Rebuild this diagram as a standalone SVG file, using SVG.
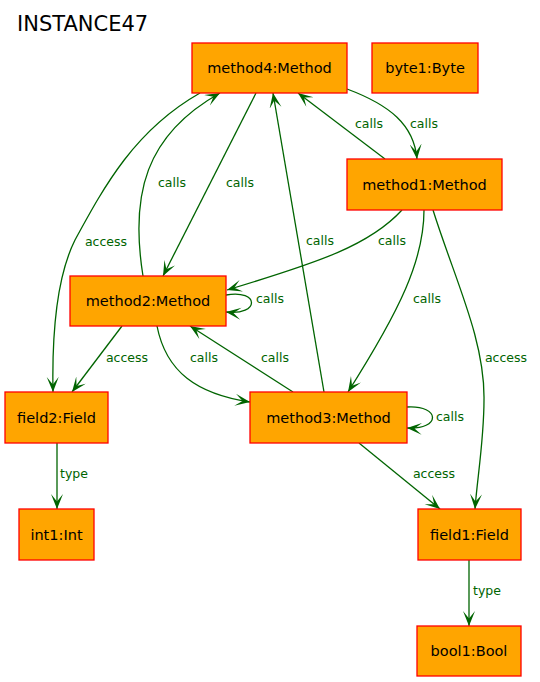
<svg xmlns="http://www.w3.org/2000/svg" width="540" height="682" viewBox="0 0 540 682">
<style>
.node rect{fill:#FFA500;stroke:#FF0000;stroke-width:1.3}
.node text{font-family:"DejaVu Sans",Verdana,sans-serif;font-size:14.5px;fill:#000;text-anchor:middle}
.edges path{fill:none;stroke:#006400;stroke-width:1.3}
.edges text{font-family:"DejaVu Sans",Verdana,sans-serif;font-size:12.5px;fill:#006400;text-anchor:middle}
.title{font-family:"DejaVu Sans",Verdana,sans-serif;font-size:21px;fill:#000}
</style>
<defs>
<marker id="arr" markerUnits="userSpaceOnUse" markerWidth="16" markerHeight="13" refX="15" refY="6" orient="auto">
<path d="M0,0 L15,6 L0,12 L7.5,6 Z" fill="#006400"/>
</marker>
</defs>
<rect width="540" height="682" fill="#fff"/>
<text class="title" x="17" y="31">INSTANCE47</text>
<g class="edges">
<path marker-end="url(#arr)" d="M256,93 L163,276"/>
<text x="240" y="187">calls</text>
<path marker-end="url(#arr)" d="M143,276 C130,195 145,135 220,93"/>
<text x="172" y="187">calls</text>
<path marker-end="url(#arr)" d="M200,93 C135,130 105,185 75,240 C55,280 52,340 53,392"/>
<text x="106" y="246">access</text>
<path marker-end="url(#arr)" d="M324,392 L273,93"/>
<text x="320" y="245">calls</text>
<path marker-end="url(#arr)" d="M385,159 L298,93"/>
<text x="369" y="128">calls</text>
<path marker-end="url(#arr)" d="M347,89 C390,105 414,125 417,159"/>
<text x="424" y="128">calls</text>
<path marker-end="url(#arr)" d="M402,210 C370,245 320,262 227,290"/>
<text x="392" y="245">calls</text>
<path marker-end="url(#arr)" d="M226,295 C260,289 260,316 226,312"/>
<text x="270" y="303">calls</text>
<path marker-end="url(#arr)" d="M424,210 C424,260 400,310 348,392"/>
<text x="427" y="303">calls</text>
<path marker-end="url(#arr)" d="M433,210 C455,280 485,340 484,400 C484,440 477,480 475,509"/>
<text x="506" y="362">access</text>
<path marker-end="url(#arr)" d="M122,326 L72,392"/>
<text x="127" y="362">access</text>
<path marker-end="url(#arr)" d="M157,326 C166,372 197,394 250,402"/>
<text x="204" y="362">calls</text>
<path marker-end="url(#arr)" d="M293,392 L190,326"/>
<text x="275" y="362">calls</text>
<path marker-end="url(#arr)" d="M407,407 C441,405 441,430 407,428"/>
<text x="450" y="421">calls</text>
<path marker-end="url(#arr)" d="M359,443 L440,509"/>
<text x="434" y="478">access</text>
<path marker-end="url(#arr)" d="M57,443 L57,509"/>
<text x="74" y="478">type</text>
<path marker-end="url(#arr)" d="M469,560 L469,626"/>
<text x="487" y="595">type</text>
</g>
<g id="method4" class="node"><rect x="192" y="43" width="155" height="50"/><text x="269.5" y="73">method4:Method</text></g>
<g id="byte1" class="node"><rect x="372" y="43" width="106" height="50"/><text x="425" y="73">byte1:Byte</text></g>
<g id="method1" class="node"><rect x="347" y="159" width="155" height="51"/><text x="424.5" y="189.5">method1:Method</text></g>
<g id="method2" class="node"><rect x="70" y="276" width="156" height="50"/><text x="148" y="306">method2:Method</text></g>
<g id="field2" class="node"><rect x="5" y="392" width="103" height="51"/><text x="56.5" y="422.5">field2:Field</text></g>
<g id="method3" class="node"><rect x="250" y="392" width="157" height="51"/><text x="328.5" y="422.5">method3:Method</text></g>
<g id="int1" class="node"><rect x="19" y="509" width="75" height="51"/><text x="56.5" y="539.5">int1:Int</text></g>
<g id="field1" class="node"><rect x="418" y="509" width="103" height="51"/><text x="469.5" y="539.5">field1:Field</text></g>
<g id="bool1" class="node"><rect x="417" y="626" width="104" height="50"/><text x="469" y="656">bool1:Bool</text></g>
</svg>
